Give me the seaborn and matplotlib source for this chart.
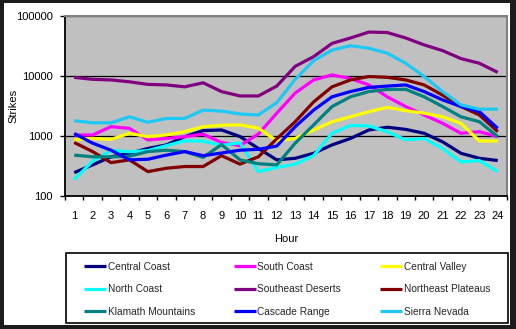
import matplotlib
matplotlib.use('Agg')
import matplotlib.pyplot as plt
import seaborn as sns
import pandas as pd
import numpy as np
from matplotlib.patches import Rectangle
from matplotlib.ticker import NullLocator

hours = list(range(1, 25))
regions = ["Central Coast", "South Coast", "Central Valley", "North Coast",
           "Southeast Deserts", "Northeast Plateaus", "Klamath Mountains",
           "Cascade Range", "Sierra Nevada"]
colors = ["#000080", "#FF00FF", "#FFFF00", "#00FFFF", "#800080", "#800000",
          "#008080", "#0000FF", "#1EC8F5"]

central_coast = [245, 330, 450, 515, 620, 710, 975, 1230, 1260, 980, 620, 400,
                 425, 515, 710, 910, 1260, 1400, 1290, 1110, 800, 515, 425, 390]
south_coast = [1040, 1040, 1430, 1340, 860, 910, 975, 1070, 780, 690, 1080, 2400,
               5200, 8600, 10400, 9100, 7100, 4500, 3100, 2240, 1630, 1110, 1180, 975]
central_valley = [860, 910, 880, 1110, 975, 1040, 1180, 1430, 1510, 1530, 1350, 830,
                  910, 1260, 1730, 2090, 2540, 3000, 2640, 2400, 2090, 1630, 825, 825]
north_coast = [188, 380, 575, 545, 570, 690, 830, 820, 700, 770, 255, 300,
               340, 470, 1110, 1500, 1470, 1180, 860, 910, 620, 370, 390, 255]
southeast_deserts = [9500, 8800, 8600, 8000, 7250, 7100, 6600, 7700, 5500, 4650, 4650, 6800,
                     14500, 21000, 35000, 43000, 54000, 53000, 43000, 33000, 26500, 19500, 16300, 11500]
northeast_plateaus = [780, 550, 360, 400, 255, 290, 310, 310, 470, 340, 450, 900,
                      1730, 3700, 6600, 8600, 9800, 9500, 8600, 7100, 4800, 3100, 2240, 1180]
klamath_mountains = [480, 450, 450, 460, 550, 580, 550, 440, 720, 400, 345, 330,
                     760, 1530, 3100, 4500, 5500, 5970, 6000, 4500, 3100, 2090, 1730, 975]
cascade_range = [1100, 760, 580, 400, 410, 480, 550, 470, 520, 580, 600, 680,
                 1430, 2700, 4500, 5500, 6450, 6800, 7100, 5500, 4000, 3100, 2540, 1340]
sierra_nevada = [1800, 1660, 1660, 2090, 1690, 1960, 1960, 2700, 2600, 2330, 2240, 3600,
                 8800, 18000, 27000, 32000, 29000, 24000, 16300, 9800, 5500, 3300, 2800, 2800]

series = [central_coast, south_coast, central_valley, north_coast, southeast_deserts,
          northeast_plateaus, klamath_mountains, cascade_range, sierra_nevada]

df = pd.DataFrame({
    "Hour": hours * len(regions),
    "Strikes": [v for s in series for v in s],
    "Region": [r for r in regions for _ in hours],
})

sns.set_style("white")
plt.rcParams['font.family'] = ['Liberation Sans', 'DejaVu Sans']

W, H = 516, 329
fig = plt.figure(figsize=(W / 100, H / 100), dpi=100)
fig.patch.set_facecolor('#1c1c1c')
fig.patches.append(Rectangle((4 / W, 1 - 325 / H), 506 / W, 322 / H,
                             transform=fig.transFigure, facecolor='white',
                             edgecolor='none', zorder=-10))
ax = fig.add_axes([65 / W, 1 - 196 / H, 442 / W, 180 / H])
ax.set_facecolor('#C0C0C0')

sns.lineplot(data=df, x="Hour", y="Strikes", hue="Region", hue_order=regions,
             palette=dict(zip(regions, colors)), linewidth=2.3, errorbar=None,
             ax=ax, legend=True)
handles, labels = ax.get_legend_handles_labels()
ax.get_legend().remove()
for ln in ax.get_lines():
    ln.set_solid_joinstyle('round')
    ln.set_solid_capstyle('butt')

ax.set_yscale('log')
ax.set_ylim(100, 100000)
ax.set_xlim(0.5, 24.5)
ax.set_yticks([100, 1000, 10000, 100000])
ax.set_yticklabels(['100', '1000', '10000', '100000'])
ax.yaxis.set_minor_locator(NullLocator())
ax.set_xticks(hours)
ax.set_xticklabels([str(h) for h in hours])
ax.set_xticks(np.arange(0.5, 25, 1), minor=True)
ax.tick_params(axis='x', which='major', length=0, pad=11, labelsize=8, colors='black')
ax.tick_params(axis='x', which='minor', length=3, width=1, color='black', direction='out', bottom=True)
ax.tick_params(axis='y', which='major', length=3.6, width=1, color='black', direction='out',
               left=True, pad=5, labelsize=8, labelcolor='black')
ax.set_axisbelow(True)
ax.yaxis.grid(True, color='black', linewidth=0.9)
ax.xaxis.grid(False)
for s in ['left', 'bottom']:
    ax.spines[s].set_color('black')
    ax.spines[s].set_linewidth(1.3)
for s in ['top', 'right']:
    ax.spines[s].set_color('#808080')
    ax.spines[s].set_linewidth(1.5)

ax.set_xlabel("Hour", fontsize=8, color='black')
ax.set_ylabel("Strikes", fontsize=8, color='black')
ax.xaxis.set_label_coords(0.5, -(234 - 196) / 180)
ax.yaxis.set_label_coords((18 - 65) / 442, 0.5)

order = [0, 3, 6, 1, 4, 7, 2, 5, 8]
leg = fig.legend([handles[i] for i in order], [labels[i] for i in order], ncol=3,
                 loc='upper left', mode='expand', frameon=False,
                 bbox_to_anchor=(84 / W, 1 - 302 / H, 406 / W, 40 / H),
                 borderpad=0, borderaxespad=0, fontsize=7.3, handlelength=2.2,
                 handletextpad=0.12, labelspacing=1.22, columnspacing=1.0)
for lh in leg.get_lines():
    lh.set_linewidth(2.3)
fig.patches.append(Rectangle((66 / W, 1 - 323 / H), 442 / W, 70 / H,
                             transform=fig.transFigure, fill=False,
                             edgecolor='black', linewidth=1.2, zorder=5))

fig.savefig("out.png", dpi=100, facecolor=fig.get_facecolor())
